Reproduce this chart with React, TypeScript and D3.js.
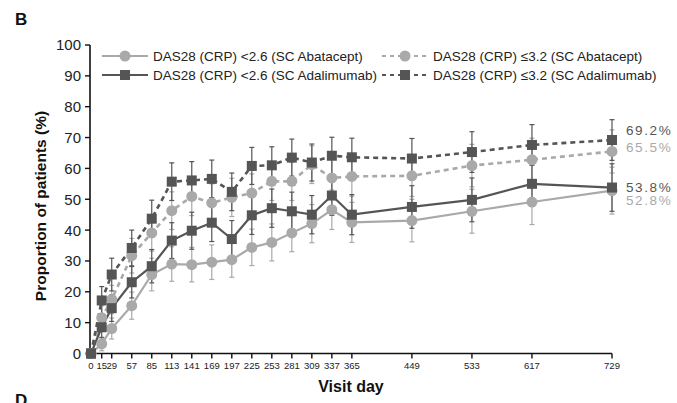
import React from "react";
import * as d3 from "d3";

const days = [0, 15, 29, 57, 85, 113, 141, 169, 197, 225, 253, 281, 309, 337, 365, 449, 533, 617, 729];
const yTicks = [0, 10, 20, 30, 40, 50, 60, 70, 80, 90, 100];

const abaLow = [0, 3.1, 8.1, 15.5, 25.6, 29.0, 28.8, 29.6, 30.4, 34.4, 36.0, 39.1, 42.1, 46.6, 42.5, 43.1, 46.1, 49.1, 52.8];
const abaLowErr = [0, 2.2, 3.4, 4.4, 5.3, 5.6, 5.6, 5.6, 5.7, 5.9, 6.0, 6.1, 6.2, 6.4, 6.5, 6.9, 7.1, 7.3, 7.6];
const abaHigh = [0, 11.6, 17.5, 31.7, 39.1, 46.3, 50.9, 48.8, 50.6, 52.0, 55.8, 55.8, 61.2, 56.9, 57.4, 57.6, 60.9, 62.8, 65.5];
const abaHighErr = [0, 3.9, 4.6, 5.6, 5.9, 6.1, 6.2, 6.2, 6.2, 6.2, 6.2, 6.2, 6.1, 6.3, 6.4, 6.7, 6.9, 7.0, 7.0];
const adaLow = [0, 8.5, 14.7, 23.1, 28.3, 36.6, 39.8, 42.4, 37.1, 44.8, 47.1, 46.1, 45.0, 51.2, 45.0, 47.5, 49.8, 55.0, 53.8];
const adaLowErr = [0, 3.4, 4.3, 5.1, 5.4, 5.8, 6.0, 6.1, 6.0, 6.2, 6.2, 6.2, 6.2, 6.4, 6.5, 6.9, 7.1, 7.3, 7.7];
const adaHigh = [0, 17.2, 25.6, 34.2, 43.7, 55.7, 56.1, 56.6, 52.4, 60.8, 61.0, 63.5, 61.9, 64.1, 63.6, 63.2, 65.3, 67.6, 69.2];
const adaHighErr = [0, 4.5, 5.3, 5.8, 6.0, 6.1, 6.1, 6.1, 6.1, 6.0, 6.0, 6.0, 6.0, 6.0, 6.2, 6.5, 6.6, 6.6, 6.6];

const labels = [
  "DAS28 (CRP) <2.6 (SC Abatacept)",
  "DAS28 (CRP) <2.6 (SC Adalimumab)",
  "DAS28 (CRP) \u22643.2 (SC Abatacept)",
  "DAS28 (CRP) \u22643.2 (SC Adalimumab)",
];
const endLabels = ["52.8%", "53.8%", "65.5%", "69.2%"];

const DARK = "#555555";
const LIGHT = "#a9a9a9";
const FONT = "'Liberation Sans', Arial, Helvetica, sans-serif";

type Series = { name: string; values: number[]; err: number[]; color: string; dashed: boolean; shape: "circle" | "square" };

const series: Series[] = [
  { name: labels[0], values: abaLow, err: abaLowErr, color: LIGHT, dashed: false, shape: "circle" },
  { name: labels[2], values: abaHigh, err: abaHighErr, color: LIGHT, dashed: true, shape: "circle" },
  { name: labels[1], values: adaLow, err: adaLowErr, color: DARK, dashed: false, shape: "square" },
  { name: labels[3], values: adaHigh, err: adaHighErr, color: DARK, dashed: true, shape: "square" },
];

const x = d3.scaleLinear().domain([0, 729]).range([91, 612]);
const y = d3.scaleLinear().domain([0, 100]).range([353.5, 45]);

function Marker({ shape, cx, cy, color }: { shape: string; cx: number; cy: number; color: string }) {
  if (shape === "circle") return <circle cx={cx} cy={cy} r={5.5} fill={color} />;
  return <rect x={cx - 5} y={cy - 5} width={10} height={10} fill={color} />;
}

export default function App() {
  const line = d3.line<number>().x((_, i) => x(days[i])).y((v) => y(v));
  const legendItems = [
    { s: series[0], lx: 102, ly: 56 },
    { s: series[2], lx: 102, ly: 75 },
    { s: series[1], lx: 382, ly: 56 },
    { s: series[3], lx: 382, ly: 75 },
  ];
  const endPos = [
    { t: endLabels[0], c: LIGHT, yb: 205 },
    { t: endLabels[1], c: DARK, yb: 191.5 },
    { t: endLabels[2], c: LIGHT, yb: 151.5 },
    { t: endLabels[3], c: DARK, yb: 135 },
  ];
  return (
    <svg width={677} height={403} style={{ position: "absolute", left: 0, top: 0, background: "#fff" }} fontFamily={FONT}>
      <rect width={677} height={403} fill="#fff" />
      <text x={15} y={25} fontSize={17} fontWeight="bold" fill="#111">B</text>
      <text x={15} y={406} fontSize={17} fontWeight="bold" fill="#111">D</text>

      {/* axes */}
      <line x1={90} x2={90} y1={y(100)} y2={y(0)} stroke="#111" strokeWidth={1.6} />
      <line x1={90} x2={x(729)} y1={y(0)} y2={y(0)} stroke="#111" strokeWidth={1.6} />
      {yTicks.map((t) => (
        <g key={t}>
          <line x1={85} x2={90} y1={y(t)} y2={y(t)} stroke="#111" strokeWidth={1.4} />
          <text x={81} y={y(t)} dy="0.36em" textAnchor="end" fontSize={15} fill="#222">{t}</text>
        </g>
      ))}
      {days.map((d) => (
        <g key={d}>
          <line x1={x(d)} x2={x(d)} y1={y(0)} y2={y(0) + 5} stroke="#111" strokeWidth={1.4} />
          <text x={x(d)} y={369} textAnchor="middle" fontSize={9.5} fill="#222">{d}</text>
        </g>
      ))}
      <text transform="translate(46,206) rotate(-90)" textAnchor="middle" fontSize={15.5} fontWeight="bold" fill="#111">Proportion of patients (%)</text>
      <text x={351} y={392} textAnchor="middle" fontSize={16} fontWeight="bold" fill="#111">Visit day</text>

      {/* error bars */}
      {series.map((s, si) => (
        <g key={"e" + si} stroke={s.color} strokeWidth={1.2}>
          {s.values.map((v, i) => s.err[i] > 0 ? (
            <g key={i}>
              <line x1={x(days[i])} x2={x(days[i])} y1={y(v - s.err[i])} y2={y(v + s.err[i])} />
              <line x1={x(days[i]) - 2.5} x2={x(days[i]) + 2.5} y1={y(v - s.err[i])} y2={y(v - s.err[i])} />
              <line x1={x(days[i]) - 2.5} x2={x(days[i]) + 2.5} y1={y(v + s.err[i])} y2={y(v + s.err[i])} />
            </g>
          ) : null)}
        </g>
      ))}
      {/* lines */}
      {series.map((s, si) => (
        <path key={"l" + si} d={line(s.values) || ""} fill="none" stroke={s.color} strokeWidth={s.dashed ? 2.6 : 2.2} strokeDasharray={s.dashed ? "5,4" : undefined} />
      ))}
      {/* markers */}
      {series.map((s, si) => (
        <g key={"m" + si}>
          {s.values.map((v, i) => (
            <Marker key={i} shape={s.shape} cx={x(days[i])} cy={y(v)} color={s.color} />
          ))}
        </g>
      ))}

      {/* end labels */}
      {endPos.map((e, i) => (
        <text key={i} x={626} y={e.yb} fontSize={13.5} letterSpacing={1.6} fill={e.c}>{e.t}</text>
      ))}

      {/* legend */}
      {legendItems.map((it, i) => (
        <g key={i}>
          <line x1={it.lx} x2={it.lx + 46} y1={it.ly} y2={it.ly} stroke={it.s.color} strokeWidth={it.s.dashed ? 2.2 : 2} strokeDasharray={it.s.dashed ? "4,4" : undefined} />
          <Marker shape={it.s.shape} cx={it.lx + 23} cy={it.ly} color={it.s.color} />
          <text x={it.lx + 51} y={it.ly} dy="0.36em" fontSize={13.5} fill="#222">{it.s.name}</text>
        </g>
      ))}
    </svg>
  );
}
